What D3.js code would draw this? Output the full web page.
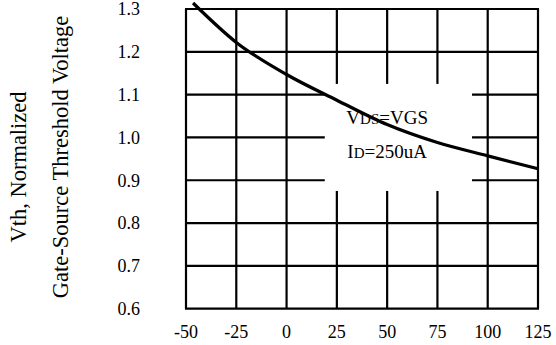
<!DOCTYPE html>
<html>
<head>
<meta charset="utf-8">
<script src="https://cdn.jsdelivr.net/npm/d3@7"></script>
<style>
  html, body { margin: 0; padding: 0; background: #fff; }
  svg { display: block; }
  text { font-family: "Liberation Serif", "Times New Roman", serif; fill: #000; }
</style>
</head>
<body>
<svg id="chart" width="556" height="345"></svg>
<script>
// Junction temperature (°C) and normalized gate-source threshold voltage
const temperatures = [-46.5, -25, 0, 25, 50, 75, 100, 125];
const vthNormalized = [1.314, 1.222, 1.147, 1.087, 1.030, 0.988, 0.957, 0.927];

const xTicks = [-50, -25, 0, 25, 50, 75, 100, 125];
const yTicks = [0.6, 0.7, 0.8, 0.9, 1.0, 1.1, 1.2, 1.3];

const svg = d3.select("#chart");
const width = 556, height = 345;
const plot = { left: 186, right: 538, top: 9, bottom: 308.7 };

const x = d3.scaleLinear().domain([-50, 125]).range([plot.left, plot.right]);
const y = d3.scaleLinear().domain([0.6, 1.3]).range([plot.bottom, plot.top]);

svg.append("rect").attr("width", width).attr("height", height).attr("fill", "#fff");

// Grid
const grid = svg.append("g").attr("stroke", "#000").attr("stroke-width", 2.2);
grid.selectAll("line.v").data(xTicks).join("line")
  .attr("class", "v")
  .attr("x1", d => x(d)).attr("x2", d => x(d))
  .attr("y1", y(1.3)).attr("y2", y(0.6));
grid.selectAll("line.h").data(yTicks).join("line")
  .attr("class", "h")
  .attr("x1", x(-50) - 1).attr("x2", x(125) + 1)
  .attr("y1", d => y(d)).attr("y2", d => y(d));

// Clear area behind the test-condition note
svg.append("rect")
  .attr("x", x(19)).attr("y", y(1.125))
  .attr("width", x(92.2) - x(19))
  .attr("height", y(0.875) - y(1.125))
  .attr("fill", "#fff");

// Tick labels
svg.append("g").selectAll("text").data(yTicks).join("text")
  .attr("x", 140).attr("y", d => y(d))
  .attr("dy", "0.35em")
  .attr("text-anchor", "end")
  .attr("font-size", 18)
  .text(d => d.toFixed(1));

svg.append("g").selectAll("text").data(xTicks).join("text")
  .attr("x", d => x(d)).attr("y", 338)
  .attr("text-anchor", "middle")
  .attr("font-size", 18)
  .text(d => d);

// Y axis title (two lines)
svg.append("text")
  .attr("transform", "translate(26,167) rotate(-90)")
  .attr("text-anchor", "middle")
  .attr("font-size", 22.5)
  .text("Vth, Normalized");
svg.append("text")
  .attr("transform", "translate(68,157) rotate(-90)")
  .attr("text-anchor", "middle")
  .attr("font-size", 22.5)
  .text("Gate-Source Threshold Voltage");

// Test conditions
const note1 = svg.append("text")
  .attr("x", x(50)).attr("y", 124)
  .attr("text-anchor", "middle")
  .attr("font-size", 19);
note1.append("tspan").text("V");
note1.append("tspan").attr("font-size", 15).text("DS");
note1.append("tspan").text("=VGS");

const note2 = svg.append("text")
  .attr("x", x(50)).attr("y", 158)
  .attr("text-anchor", "middle")
  .attr("font-size", 19);
note2.append("tspan").text("I");
note2.append("tspan").attr("font-size", 15).text("D");
note2.append("tspan").text("=250uA");

// Threshold voltage curve
const line = d3.line()
  .x((d, i) => x(temperatures[i]))
  .y(d => y(d))
  .curve(d3.curveMonotoneX);

svg.append("path")
  .datum(vthNormalized)
  .attr("d", line)
  .attr("fill", "none")
  .attr("stroke", "#000")
  .attr("stroke-width", 3.2);
</script>
</body>
</html>
